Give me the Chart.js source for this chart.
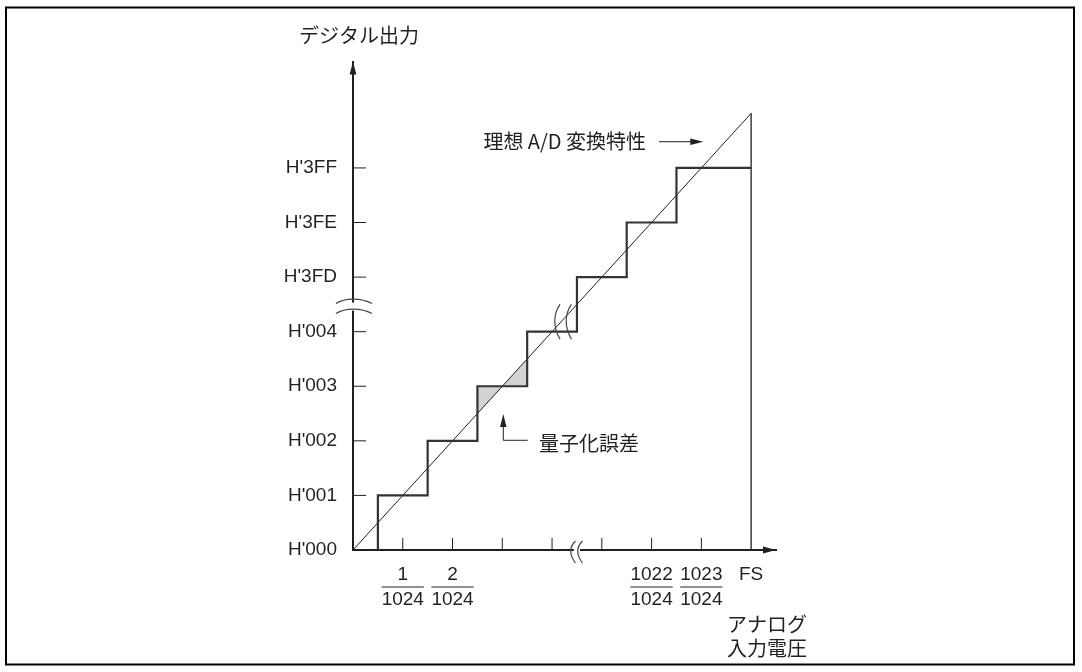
<!DOCTYPE html>
<html>
<head>
<meta charset="utf-8">
<script src="https://cdn.jsdelivr.net/npm/chart.js@4.4.1/dist/chart.umd.min.js"></script>
<style>
  html, body { margin: 0; padding: 0; background: #fff; }
  #wrap { width: 1082px; height: 672px; position: relative; }
</style>
</head>
<body>
<div id="wrap"><canvas id="c" width="1082" height="672"></canvas></div>
<script>
// ---------- data ----------
// Y axis: digital output codes (axis broken between H'004 and H'3FD)
const yTickValues = [0, 1, 2, 3, 4, 5, 6, 7];
const yTickLabels = ["H'000", "H'001", "H'002", "H'003", "H'004", "H'3FD", "H'3FE", "H'3FF"];
// X axis: analog input (in 1/1024 FS units, axis broken between 4 and 1021)
const xTickMarks = [1, 2, 3, 4, 5, 6, 7];
const xLabelValues = [1, 2, 6, 7, 8];
const xLabelNumerators = ['1', '2', '1022', '1023', 'FS'];
const xLabelDenominators = ['1024', '1024', '1024', '1024', ''];
// actual A/D staircase: code transition edges and codes
const stepEdges = [0.5, 1.5, 2.5, 3.5, 4.5, 5.5, 6.5, 8];
const stepCodes = [1, 2, 3, 4, 5, 6, 7];
// ideal A/D characteristic
const idealX = [0, 8];
const idealY = [0, 8];
// full-scale line
const fsX = [8, 8];
const fsY = [0, 8];
// quantization error region (between staircase and ideal line)
const errX = [2.5, 2.5, 3.5, 3.5, 2.5];
const errY = [2.5, 3, 3, 3.5, 2.5];
// axis break locations
const xBreak = 4.5;
const yBreak = 4.46;

// ---------- styles / annotation placement ----------
const INK = '#231f20';
const NUM_FONT = '"Liberation Sans", Arial, Helvetica, sans-serif';
const JP_FONT = '"Noto Sans CJK JP", "Noto Sans", sans-serif';
const noteIdeal = { text: '理想 A/D 変換特性', textX: 5.89, y: 7.48, arrowFrom: 6.15, arrowTo: 7.04 };
const noteErr = { text: '量子化誤差', textX: 3.74, textY: 1.96, tipX: 3.02, tipY: 2.49, cornerY: 2.01, endX: 3.51 };
const stairBreak = { x1: 4.12, x2: 4.35, y: 4.18, half: 0.32 };

const zip = (xs, ys) => xs.map((x, i) => ({ x, y: ys[i] }));
const stairPoints = [{ x: stepEdges[0], y: 0 }];
stepCodes.forEach((c, i) => {
  stairPoints.push({ x: stepEdges[i], y: c });
  stairPoints.push({ x: stepEdges[i + 1], y: c });
});

function arrowHead(ctx, tx, ty, dx, dy, len, hw) {
  const bx = tx - dx * len, by = ty - dy * len;
  ctx.beginPath();
  ctx.moveTo(tx, ty);
  ctx.lineTo(bx - dy * hw, by + dx * hw);
  ctx.lineTo(bx + dy * hw, by - dx * hw);
  ctx.closePath();
  ctx.fill();
}

const overlay = {
  id: 'overlay',
  afterDraw(chart) {
    const { ctx, chartArea: a, scales: { x: xs, y: ys } } = chart;
    const X = v => xs.getPixelForValue(v);
    const Y = v => ys.getPixelForValue(v);
    const ax = a.left, ay = a.bottom;
    ctx.save();
    ctx.strokeStyle = INK;
    ctx.fillStyle = INK;

    // tick marks (inward)
    ctx.lineWidth = 1;
    ctx.beginPath();
    yTickValues.forEach(v => { const p = Y(v); ctx.moveTo(ax, p); ctx.lineTo(ax + 13, p); });
    xTickMarks.forEach(v => { const p = X(v); ctx.moveTo(p, ay); ctx.lineTo(p, ay - 12); });
    ctx.stroke();

    // axis arrowheads
    arrowHead(ctx, ax, a.top, 0, -1, 13, 3.4);
    arrowHead(ctx, a.right, ay, 1, 0, 13, 3.4);

    // fraction bars under x labels
    ctx.font = '19px ' + NUM_FONT;
    ctx.lineWidth = 1;
    xLabelValues.forEach((v, i) => {
      const d = xLabelDenominators[i];
      if (!d) return;
      const w = ctx.measureText(d).width;
      const cx = X(v);
      ctx.beginPath();
      ctx.moveTo(cx - w / 2, ay + 37);
      ctx.lineTo(cx + w / 2, ay + 37);
      ctx.stroke();
    });

    // y-axis break
    const yb = Y(yBreak);
    ctx.fillStyle = '#fff';
    ctx.fillRect(ax - 4, yb - 4, 8, 8);
    ctx.strokeStyle = '#444';
    ctx.lineWidth = 1.2;
    [-5, 5].forEach(o => {
      const cy = yb + o, l = ax - 17, r = ax + 19, w = r - l;
      ctx.beginPath();
      ctx.moveTo(l, cy + 2);
      ctx.bezierCurveTo(l + w * 0.25, cy - 4, l + w * 0.7, cy - 4, r, cy + 2);
      ctx.stroke();
    });

    // x-axis break
    const xb = X(xBreak);
    ctx.fillStyle = '#fff';
    ctx.fillRect(xb - 3, ay - 4, 6, 8);
    [-3.5, 3.5].forEach(o => {
      const cx = xb + o, t = ay - 9, b = ay + 13;
      ctx.beginPath();
      ctx.moveTo(cx + 2, t);
      ctx.bezierCurveTo(cx - 4, t + 6, cx - 4, b - 8, cx + 2, b);
      ctx.stroke();
    });

    // staircase break marks
    [stairBreak.x1, stairBreak.x2].forEach(v => {
      const cx = X(v), t = Y(stairBreak.y + stairBreak.half), b = Y(stairBreak.y - stairBreak.half);
      ctx.beginPath();
      ctx.moveTo(cx + 2, t);
      ctx.bezierCurveTo(cx - 5, t + 10, cx - 5, b - 12, cx + 2, b);
      ctx.stroke();
    });

    ctx.strokeStyle = INK;
    ctx.fillStyle = INK;

    // annotation: ideal characteristic
    ctx.font = '20px ' + JP_FONT;
    ctx.textBaseline = 'middle';
    ctx.textAlign = 'right';
    ctx.fillText(noteIdeal.text, X(noteIdeal.textX), Y(noteIdeal.y));
    ctx.lineWidth = 1;
    ctx.beginPath();
    ctx.moveTo(X(noteIdeal.arrowFrom), Y(noteIdeal.y));
    ctx.lineTo(X(noteIdeal.arrowTo) - 10, Y(noteIdeal.y));
    ctx.stroke();
    arrowHead(ctx, X(noteIdeal.arrowTo), Y(noteIdeal.y), 1, 0, 13, 3.2);

    // annotation: quantization error
    ctx.textAlign = 'left';
    ctx.fillText(noteErr.text, X(noteErr.textX), Y(noteErr.textY));
    ctx.beginPath();
    ctx.moveTo(X(noteErr.endX), Y(noteErr.cornerY));
    ctx.lineTo(X(noteErr.tipX), Y(noteErr.cornerY));
    ctx.lineTo(X(noteErr.tipX), Y(noteErr.tipY) + 10);
    ctx.stroke();
    arrowHead(ctx, X(noteErr.tipX), Y(noteErr.tipY), 0, -1, 13, 3.2);

    // axis titles
    ctx.fillText('デジタル出力', 299, 35);
    ctx.fillText('アナログ', 727, 624);
    ctx.fillText('入力電圧', 727, 648);

    // outer frame
    ctx.lineWidth = 2;
    ctx.strokeStyle = '#000';
    ctx.strokeRect(6, 7.5, 1068, 657);
    ctx.restore();
  }
};

new Chart(document.getElementById('c'), {
  type: 'scatter',
  data: {
    datasets: [
      { data: zip(idealX, idealY), showLine: true, borderColor: INK, borderWidth: 1, pointRadius: 0, order: 2 },
      { data: stairPoints, showLine: true, borderColor: '#333', borderWidth: 2.2, pointRadius: 0, order: 1 },
      { data: zip(fsX, fsY), showLine: true, borderColor: INK, borderWidth: 1.3, pointRadius: 0, order: 3 },
      { data: zip(errX, errY), showLine: true, borderWidth: 0, borderColor: 'rgba(0,0,0,0)', backgroundColor: '#d3d3d3', fill: 'shape', pointRadius: 0, order: 10 }
    ]
  },
  options: {
    responsive: false,
    animation: false,
    events: [],
    layout: { padding: { left: 0, top: 61.5, right: 306, bottom: 0 } },
    plugins: { legend: { display: false }, tooltip: { enabled: false } },
    scales: {
      x: {
        type: 'linear', position: 'bottom', min: 0, max: 8.5,
        grid: { display: false },
        border: { display: true, color: INK, width: 2 },
        afterBuildTicks: s => { s.ticks = xLabelValues.map(v => ({ value: v })); },
        afterFit: s => { s.height = 122; },
        ticks: {
          color: INK, padding: 5, autoSkip: false, maxRotation: 0,
          font: { family: NUM_FONT, size: 19, lineHeight: '24.5px' },
          callback: (v) => {
            const i = xLabelValues.indexOf(v);
            if (i < 0) return '';
            return xLabelDenominators[i] ? [xLabelNumerators[i], xLabelDenominators[i]] : xLabelNumerators[i];
          }
        }
      },
      y: {
        type: 'linear', position: 'left', min: 0, max: 8.95,
        grid: { display: false },
        border: { display: true, color: INK, width: 2 },
        afterBuildTicks: s => { s.ticks = yTickValues.map(v => ({ value: v })); },
        afterFit: s => { s.width = 353; },
        ticks: {
          color: INK, padding: 8, autoSkip: false,
          font: { family: NUM_FONT, size: 19 },
          callback: (v) => { const i = yTickValues.indexOf(v); return i < 0 ? '' : yTickLabels[i]; }
        }
      }
    }
  },
  plugins: [overlay]
});
</script>
</body>
</html>
